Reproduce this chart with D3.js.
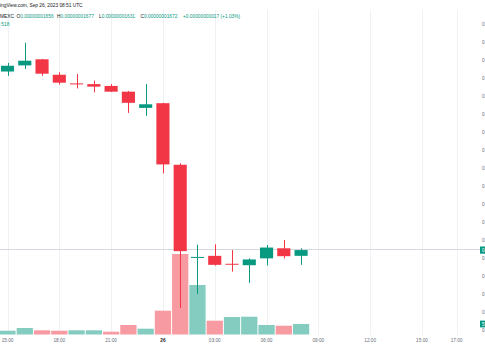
<!DOCTYPE html>
<html><head><meta charset="utf-8">
<script src="https://cdn.jsdelivr.net/npm/d3@7/dist/d3.min.js"></script>
<style>html,body{margin:0;padding:0;background:#fff;overflow:hidden}svg{display:block}</style>
</head><body>
<script>
// ---- data ----
const hours = d3.range(18); // hourly candles starting 2023-09-25 15:00 UTC
const opens  = [2168e-11,2185e-11,2202e-11,2159e-11,2135e-11,2133e-11,2128e-11,2112e-11,2067e-11,2080e-11,1909e-11,1651e-11,1656e-11,1634e-11,1630e-11,1649e-11,1677e-11,1656e-11];
const highs  = [2192e-11,2248e-11,2203e-11,2166e-11,2161e-11,2143e-11,2133e-11,2114e-11,2133e-11,2081e-11,1913e-11,1687e-11,1688e-11,1672e-11,1649e-11,1686e-11,1700e-11,1677e-11];
const lows   = [2156e-11,2175e-11,2156e-11,2132e-11,2121e-11,2110e-11,2111e-11,2053e-11,2045e-11,1885e-11,1511e-11,1550e-11,1629e-11,1612e-11,1581e-11,1629e-11,1649e-11,1631e-11];
const closes = [2184e-11,2198e-11,2162e-11,2137e-11,2134e-11,2126e-11,2112e-11,2081e-11,2077e-11,1910e-11,1669e-11,1653e-11,1631e-11,1632e-11,1646e-11,1679e-11,1655e-11,1672e-11];
const volumes = [187,321,207,187,207,207,138,469,286,1174,3971,2442,681,863,878,469,434,518];
const volumeUp = [1,1,0,0,1,1,0,0,1,0,0,1,0,1,1,1,0,1];
const tickHours = [0,3,6,9,12,15,18,21,24,26];
const tickLabels = ["15:00","18:00","21:00","26","03:00","06:00","09:00","12:00","15:00","17:00"];
const priceTicks = d3.range(1450, 2301, 50).map(v => v*1e-11);

// ---- layout ----
const W = 485, H = 360;
const UP = "#089981", DOWN = "#f23645";
const VUP = "#84ccc0", VDOWN = "#f89aa2";
const FONT = "'Liberation Sans', Arial, sans-serif";
const t0 = Date.UTC(2023, 8, 25, 15);
const hr = 3600e3;
const times = hours.map(h => new Date(t0 + h*hr));

const svg = d3.select("body").append("svg").attr("width", W).attr("height", H);

const x = d3.scaleUtc().domain([new Date(t0), new Date(t0 + 26*hr)]).range([7.5, 7.5 + 26*17.27]);
const y = d3.scaleLinear().domain([1650e-11, 2300e-11]).range([258, 24]);
const yv = d3.scaleLinear().domain([0, 4000]).range([334.5, 253.4]);
const step = x(new Date(t0 + hr)) - x(new Date(t0));
const bodyW = step * 0.76;

// grid (vertical only, very faint)
const tickDates = tickHours.map(h => new Date(t0 + h*hr));
svg.append("g").selectAll("line").data(tickDates).join("line")
  .attr("x1", d => Math.round(x(d)) + 0.5).attr("x2", d => Math.round(x(d)) + 0.5)
  .attr("y1", 10).attr("y2", 335).attr("stroke", "#f0f1f4").attr("stroke-width", 1);

// volume bars
svg.append("g").selectAll("rect").data(hours).join("rect")
  .attr("x", i => x(times[i]) - step/2 + 0.5)
  .attr("width", step - 1)
  .attr("y", i => yv(volumes[i]))
  .attr("height", i => yv(0) - yv(volumes[i]))
  .attr("fill", i => volumeUp[i] ? VUP : VDOWN);

// last price line
const lastI = hours.length - 1;
svg.append("line").attr("x1", 0).attr("x2", 480)
  .attr("y1", Math.round(y(closes[lastI])) - 0.5).attr("y2", Math.round(y(closes[lastI])) - 0.5)
  .attr("stroke", "#d5d8de").attr("stroke-width", 1);

// candles
const cg = svg.append("g").selectAll("g").data(hours).join("g");
const col = i => closes[i] >= opens[i] ? UP : DOWN;
cg.append("line")
  .attr("x1", i => Math.round(x(times[i])) + 0.5).attr("x2", i => Math.round(x(times[i])) + 0.5)
  .attr("y1", i => y(highs[i])).attr("y2", i => y(lows[i]))
  .attr("stroke", col).attr("stroke-width", 1);
cg.append("rect")
  .attr("x", i => x(times[i]) - bodyW/2)
  .attr("width", bodyW)
  .attr("y", i => y(Math.max(opens[i], closes[i])))
  .attr("height", i => Math.max(1, Math.abs(y(opens[i]) - y(closes[i]))))
  .attr("fill", col);

// x axis labels
svg.append("g").selectAll("text").data(tickDates).join("text")
  .attr("x", d => x(d)).attr("y", 342.4)
  .attr("text-anchor", "middle")
  .attr("font-family", FONT).attr("font-size", 4.7)
  .attr("font-weight", (d, i) => tickLabels[i] === "26" ? "bold" : "normal")
  .attr("fill", (d, i) => tickLabels[i] === "26" ? "#131722" : "#6a6d78")
  .text((d, i) => tickLabels[i]);

// price axis labels (cut off at right edge, as in the reference)
const fmt = v => v.toFixed(11);
svg.append("g").selectAll("text").data(priceTicks).join("text")
  .attr("x", 482).attr("y", d => y(d) + 1.7)
  .attr("font-family", FONT).attr("font-size", 4.8).attr("fill", "#6a6d78")
  .text(fmt);

// last price label
const ly = y(closes[lastI]);
svg.append("rect").attr("x", 480).attr("y", ly - 3.6).attr("width", 30).attr("height", 7.2).attr("fill", UP);
svg.append("text").attr("x", 482).attr("y", ly + 1.7).attr("font-family", FONT).attr("font-size", 4.8)
  .attr("fill", "#fff").text(fmt(closes[lastI]));
// last volume label
const vy = yv(volumes[lastI]);
svg.append("rect").attr("x", 480).attr("y", vy - 3.4).attr("width", 30).attr("height", 6.8).attr("fill", UP);
svg.append("text").attr("x", 482).attr("y", vy + 1.7).attr("font-family", FONT).attr("font-size", 4.8)
  .attr("fill", "#fff").text(volumes[lastI]);

// header legend
const FS = 4.8;
function shifted(prefix, full, yy, color) {
  const tmp = svg.append("text").attr("font-family", FONT).attr("font-size", FS).text(prefix);
  const w = tmp.node().getComputedTextLength(); tmp.remove();
  return svg.append("text").attr("x", -w).attr("y", yy).attr("font-family", FONT).attr("font-size", FS)
    .attr("fill", color).text(full);
}
shifted("Trad", "TradingView.com, Sep 26, 2023 08:51 UTC", 7.4, "#131722");

const legend = [
  {x: 0, k: "MEXC", v: ""},
  {x: 16.5, k: "O", v: fmt(opens[lastI])},
  {x: 57, k: "H", v: fmt(highs[lastI])},
  {x: 99, k: "L", v: fmt(lows[lastI])},
  {x: 140.5, k: "C", v: fmt(closes[lastI])},
];
legend.forEach(l => {
  const t = svg.append("text").attr("x", l.x).attr("y", 18.3).attr("font-family", FONT).attr("font-size", FS);
  t.append("tspan").attr("fill", "#131722").text(l.k);
  if (l.v) t.append("tspan").attr("fill", UP).text(l.v);
});
const chg = closes[lastI] - closes[lastI - 1];
svg.append("text").attr("x", 183).attr("y", 18.3).attr("font-family", FONT).attr("font-size", FS)
  .attr("fill", UP).text("+" + chg.toFixed(11) + " (+" + (chg / closes[lastI - 1] * 100).toFixed(2) + "%)");

const vt = svg.append("text").attr("y", 25.8).attr("font-family", FONT).attr("font-size", FS);
const tmpw = svg.append("text").attr("font-family", FONT).attr("font-size", FS).text("Vol ");
const vw = tmpw.node().getComputedTextLength(); tmpw.remove();
vt.attr("x", -vw);
vt.append("tspan").attr("fill", "#131722").text("Vol ");
vt.append("tspan").attr("fill", UP).text(volumes[lastI]);
</script>
</body></html>
